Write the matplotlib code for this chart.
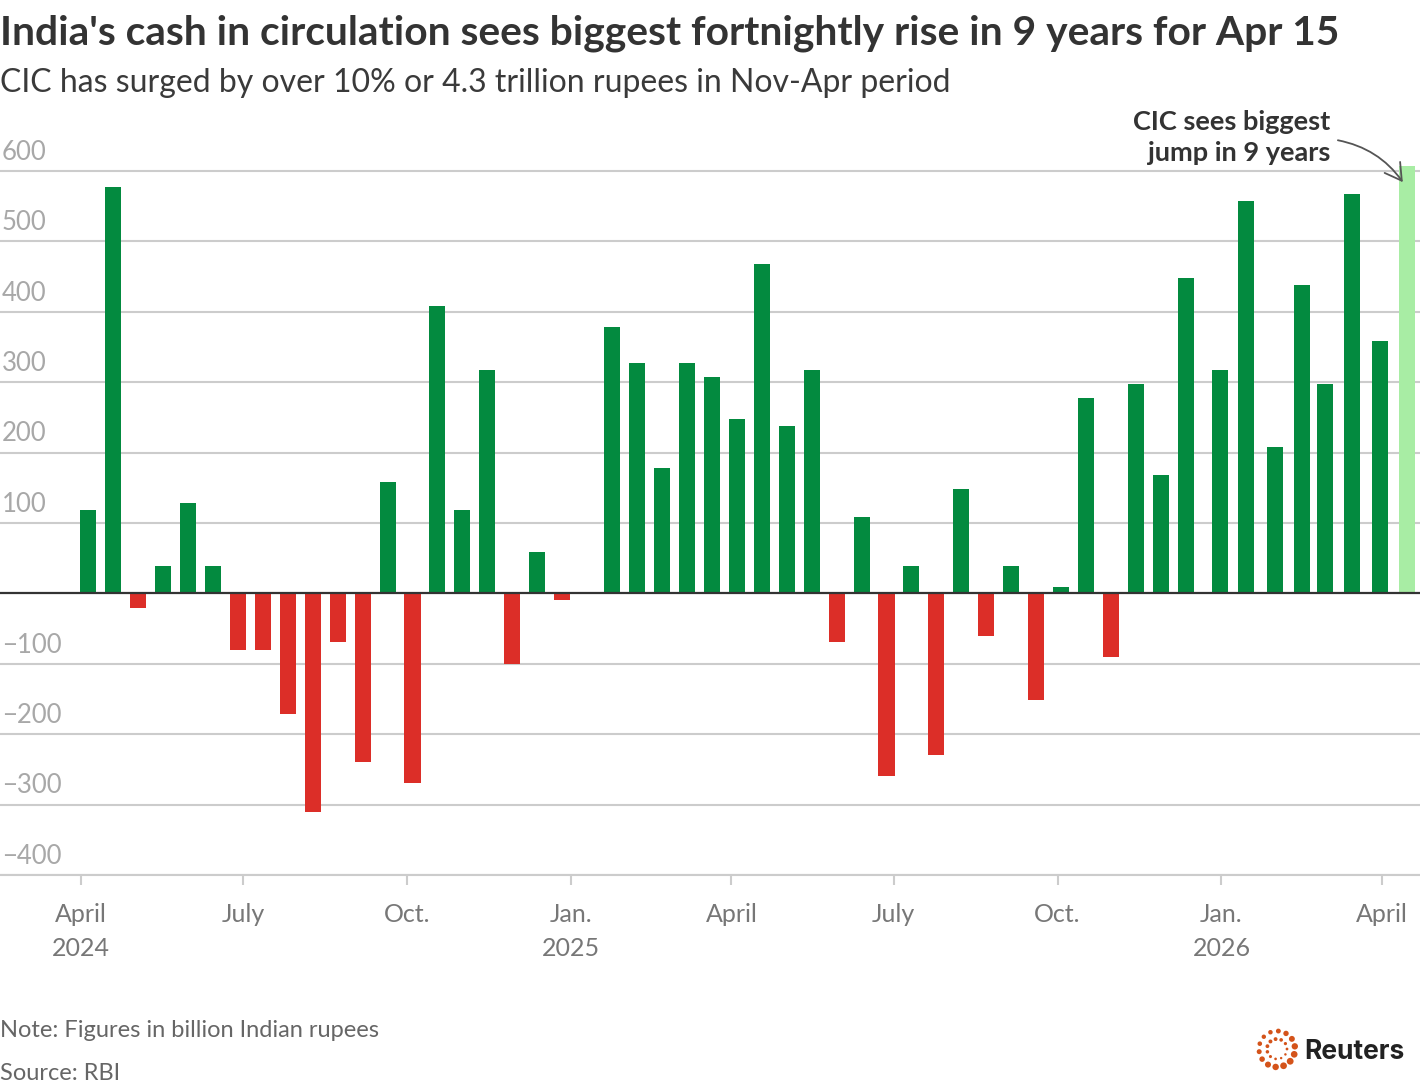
import matplotlib
matplotlib.use("Agg")
import matplotlib.pyplot as plt
import matplotlib.dates as mdates
import matplotlib.transforms as mtrans
import numpy as np
import pandas as pd

# ---------------- data ----------------
dates = [
    "2024-04-05", "2024-04-19", "2024-05-03", "2024-05-17", "2024-05-31", "2024-06-14",
    "2024-06-28", "2024-07-12", "2024-07-26", "2024-08-09", "2024-08-23", "2024-09-06",
    "2024-09-20", "2024-10-04", "2024-10-18", "2024-11-01", "2024-11-15", "2024-11-29",
    "2024-12-13", "2024-12-27", "2025-01-24", "2025-02-07", "2025-02-21", "2025-03-07",
    "2025-03-21", "2025-04-04", "2025-04-18", "2025-05-02", "2025-05-16", "2025-05-30",
    "2025-06-13", "2025-06-27", "2025-07-11", "2025-07-25", "2025-08-08", "2025-08-22",
    "2025-09-05", "2025-09-19", "2025-10-03", "2025-10-17", "2025-10-31", "2025-11-14",
    "2025-11-28", "2025-12-12", "2025-12-31", "2026-01-15", "2026-01-31", "2026-02-15",
    "2026-02-28", "2026-03-15", "2026-03-31", "2026-04-15",
]
values = [
    119, 577, -20, 39, 128, 39,
    -80, -80, -171, -310, -69, -240,
    158, -270, 408, 119, 317, -100,
    59, -10, 378, 327, 178, 327,
    307, 248, 468, 238, 317, -69,
    109, -260, 39, -230, 148, -60,
    39, -151, 9, 278, -90, 298,
    168, 448, 317, 557, 208, 438,
    298, 567, 359, 607,
]
yticks = [-400, -300, -200, -100, 0, 100, 200, 300, 400, 500, 600]
xtick_dates = ["2024-04-01", "2024-07-01", "2024-10-01", "2025-01-01", "2025-04-01",
               "2025-07-01", "2025-10-01", "2026-01-01", "2026-04-01"]
xtick_labels = ["April\n2024", "July", "Oct.", "Jan.\n2025", "April", "July", "Oct.",
                "Jan.\n2026", "April"]

title = "India's cash in circulation sees biggest fortnightly rise in 9 years for Apr 15"
subtitle = "CIC has surged by over 10% or 4.3 trillion rupees in Nov-Apr period"
annotation = "CIC sees biggest\njump in 9 years"
note = "Note: Figures in billion Indian rupees"
source = "Source: RBI"

# ---------------- style ----------------
GREEN = "#038a3f"
RED = "#dc2e28"
LIGHT = "#a8eda4"
GRID = "#cccccc"
FONT = ["Lato", "DejaVu Sans"]

plt.rcParams["font.family"] = FONT

W, H = 1420, 1088
fig = plt.figure(figsize=(W / 100, H / 100), dpi=100)

def fx(px):
    return px / W

def fy(py):
    return 1 - py / H

ymin, ymax = -400, 620
ax_top_px, ax_bot_px = 157, 875
ax = fig.add_axes([0, fy(ax_bot_px), 1, (ax_bot_px - ax_top_px) / H])

x = mdates.date2num(pd.to_datetime(dates))
colors = [GREEN if v >= 0 else RED for v in values]
colors[-1] = LIGHT
ax.bar(x, values, width=9, color=colors, zorder=3, linewidth=0)

x0 = mdates.date2num(pd.Timestamp("2024-04-01"))
ax.set_xlim(x0 - 45.5, x0 + 751.4)
ax.set_ylim(ymin, ymax)

# gridlines and y labels
for t in yticks:
    if t == 0:
        ax.axhline(0, color="#333333", lw=1.6, zorder=4)
        continue
    ax.axhline(t, color=GRID, lw=1.5, zorder=1)
    lab = f"{t}".replace("-", "\u2212")
    ax.annotate(lab, xy=(0, t), xycoords=("axes fraction", "data"),
                xytext=(1.5, 4.5), textcoords="offset points",
                ha="left", va="bottom", fontsize=18.5, color="#a8a8a8")

ax.set_yticks([])
for s in ["top", "right", "left"]:
    ax.spines[s].set_visible(False)
ax.spines["bottom"].set_color(GRID)
ax.spines["bottom"].set_linewidth(1.5)

ax.set_xticks(mdates.date2num(pd.to_datetime(xtick_dates)))
ax.set_xticklabels(xtick_labels, fontsize=18, color="#777777", linespacing=1.6)
ax.tick_params(axis="x", length=7, width=1.5, color=GRID, pad=13)

# annotation with arrow
tip = mtrans.offset_copy(ax.transData, fig=fig, x=-4, y=-16, units="dots")
ax.annotate(annotation, xy=(x[-1], values[-1]), xycoords=tip,
            xytext=(fx(1330), fy(161)), textcoords="figure fraction",
            ha="right", va="baseline", fontsize=19.5, fontweight="bold",
            color="#333333", linespacing=1.35,
            arrowprops=dict(arrowstyle="->,head_length=0.6,head_width=0.35",
                            color="#555555", lw=1.3,
                            connectionstyle="arc3,rad=-0.2",
                            shrinkA=0, shrinkB=0,
                            relpos=(1.04, 0.45)))

# titles
fig.text(0, fy(44), title, fontsize=29.3, fontweight="bold", color="#333333",
         ha="left", va="baseline")
fig.text(0, fy(92), subtitle, fontsize=23, color="#3a3a3a",
         ha="left", va="baseline")

# footer
fig.text(0, fy(1037), note, fontsize=17, color="#666666", ha="left", va="baseline")
fig.text(0, fy(1080), source, fontsize=17, color="#666666", ha="left", va="baseline")

# Reuters logo
cx, cy = 1277, 1049
ang_o = np.linspace(0, 2 * np.pi, 14, endpoint=False) + 0.3
ang_i = np.linspace(0, 2 * np.pi, 11, endpoint=False)
sz_o = 10 + 14 * (0.5 + 0.5 * np.cos(ang_o - 0.8))
sz_i = 3 + 5 * (0.5 + 0.5 * np.cos(ang_i + 2.2))
lax = fig.add_axes([0, 0, 1, 1], facecolor="none")
lax.set_xlim(0, W)
lax.set_ylim(H, 0)
lax.axis("off")
lax.scatter(cx + 18 * np.cos(ang_o), cy + 18 * np.sin(ang_o), s=sz_o, color="#d4531a", lw=0)
lax.scatter(cx + 10 * np.cos(ang_i), cy + 10 * np.sin(ang_i), s=sz_i, color="#d4531a", lw=0)
lax.text(1304, 1059, "Reuters", fontsize=19, fontweight="bold", color="#222222",
         ha="left", va="baseline", family=["Inter", "DejaVu Sans"])

fig.savefig("out.png", dpi=100)
